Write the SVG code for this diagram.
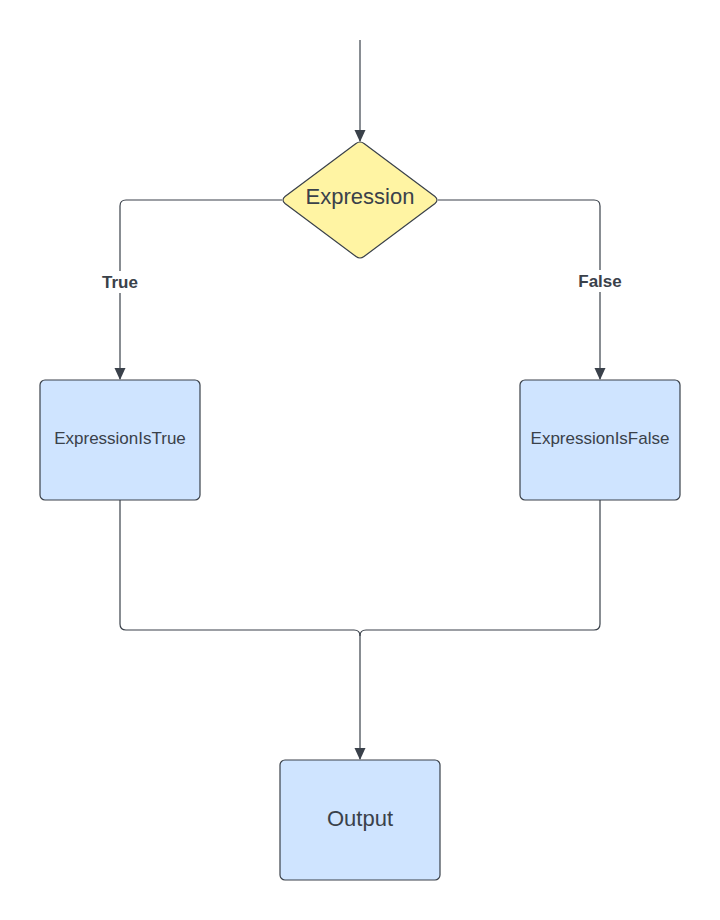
<svg xmlns="http://www.w3.org/2000/svg" width="720" height="920" viewBox="0 0 720 920">
<style>
.c{fill:none;stroke:#3a414a;stroke-width:1.2}
.box{fill:#cfe4ff;stroke:#3a414a;stroke-width:1.2}
.dia{fill:#fff4a3;stroke:#3a414a;stroke-width:1.2}
.t{font-family:"Liberation Sans",Arial,sans-serif;fill:#3a414a;text-anchor:middle}
.lbl{font-family:"Liberation Sans",Arial,sans-serif;fill:#3a414a;text-anchor:middle;font-weight:bold;font-size:17px}
</style>
<defs>
<marker id="ah" markerWidth="12" markerHeight="16" refX="11" refY="5.5" orient="auto" markerUnits="userSpaceOnUse" viewBox="0 0 12 11">
<path d="M0,0 L12,5.5 L0,11 Z" fill="#3a414a"/>
</marker>
</defs>
<rect width="720" height="920" fill="#ffffff"/>
<g id="connectors">
<path class="c" d="M360,40 V141" marker-end="url(#ah)"/>
<path class="c" d="M282,200 H126 Q120,200 120,206 V379" marker-end="url(#ah)"/>
<path class="c" d="M438,200 H594 Q600,200 600,206 V379" marker-end="url(#ah)"/>
<path class="c" d="M120,500 V624 Q120,630 126,630 H354 Q360,630 360,636 V759" marker-end="url(#ah)"/>
<path class="c" d="M600,500 V624 Q600,630 594,630 H366 Q360,630 360,636"/>
<rect x="96" y="271" width="48" height="22" fill="#ffffff"/>
<text class="lbl" x="120" y="288">True</text>
<rect x="573" y="270" width="54" height="22" fill="#ffffff"/>
<text class="lbl" x="600" y="287">False</text>
</g>
<g id="expression">
<path class="dia" d="M356,143.5 Q360,140.5 364,143.5 L435,196.5 Q439,200 435,203.5 L364,256.5 Q360,259.5 356,256.5 L285,203.5 Q281,200 285,196.5 Z"/>
<text class="t" x="360" y="204" font-size="22">Expression</text>
</g>
<g id="expressionIsTrue">
<rect class="box" x="40" y="380" width="160" height="120" rx="5"/>
<text class="t" x="120" y="444" font-size="17">ExpressionIsTrue</text>
</g>
<g id="expressionIsFalse">
<rect class="box" x="520" y="380" width="160" height="120" rx="5"/>
<text class="t" x="600" y="444" font-size="17">ExpressionIsFalse</text>
</g>
<g id="output">
<rect class="box" x="280" y="760" width="160" height="120" rx="5"/>
<text class="t" x="360" y="826" font-size="22">Output</text>
</g>
</svg>
